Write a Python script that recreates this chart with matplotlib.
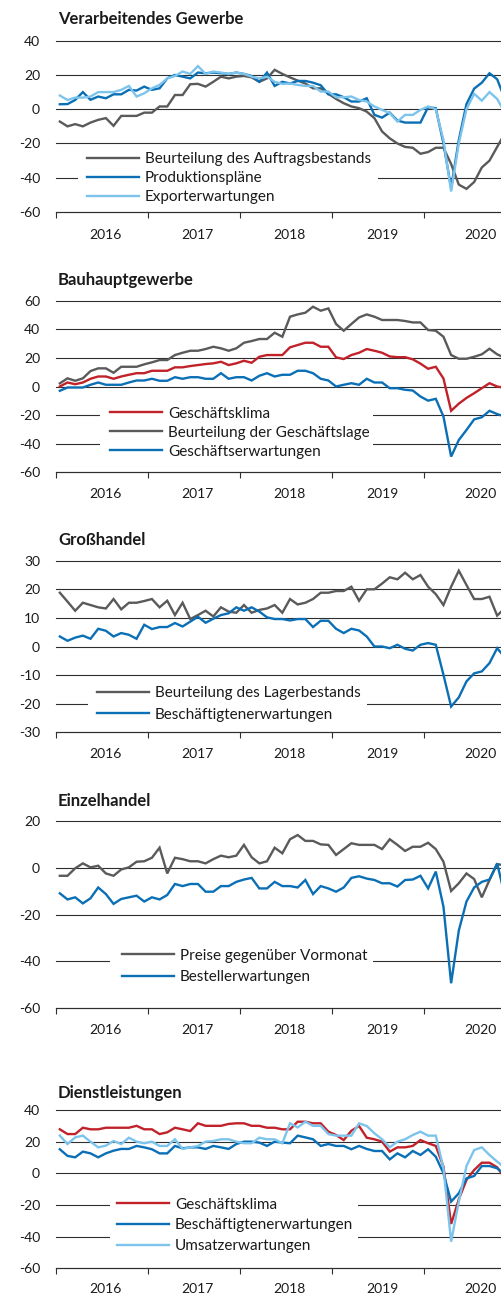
import numpy as np
import matplotlib
matplotlib.use("Agg")
import matplotlib.pyplot as plt
from matplotlib.patches import Rectangle

plt.rcParams['font.family'] = ['Lato', 'DejaVu Sans']
plt.rcParams['axes.unicode_minus'] = False

W, H, DPI = 501, 1295, 100

# ---------------- data ----------------
years = ['2016', '2017', '2018', '2019', '2020']
year_ticks = [0, 12, 24, 36, 48]
year_label_pos = [6.4, 18.4, 30.4, 42.5, 55.3]

vg_title = 'Verarbeitendes Gewerbe'
vg_labels = ['Beurteilung des Auftragsbestands', 'Produktionspläne', 'Exporterwartungen']
vg_auftragsbestand = [-7.2, -10, -8.7, -10, -7.8, -6.2, -5.2, -9.7, -3.9, -3.9, -3.9, -2, -2, 1.6, 1.6, 8.3, 8.3,
                      14.6, 14.8, 13.2, 16, 19, 18, 19, 19.4, 18.6, 16, 18, 23, 20.6, 18.6, 16.7, 15, 12.2, 12.2,
                      9, 6, 3.5, 1.6, 0.6, -1.4, -5.2, -13, -17, -20, -22, -22.5, -26, -25, -22.5, -22.5, -32,
                      -44, -46.5, -42.5, -34, -30, -22, -14]
vg_produktion = [2.9, 3, 5.4, 10, 5.5, 7.4, 6.4, 8.7, 8.7, 11.3, 10.9, 13.2, 11.3, 12.2, 18, 20, 19, 18, 21.4, 21,
                 21.4, 21, 20.6, 21.4, 20.6, 19.4, 16, 21.4, 13.6, 16, 15, 16.5, 16.5, 15.5, 14, 8.7, 8.7, 7, 4.5,
                 4.5, 6.4, -3.3, -4.9, -2, -6.6, -7.8, -7.8, -7.8, 1.2, 0.6, -20, -46, -18, 3, 12, 15.5, 21, 17.5, 6]
vg_export = [8, 5.4, 6.8, 6.8, 7.4, 10, 10, 10, 11.3, 13.6, 7.4, 9.3, 12.2, 14.2, 18, 19.4, 22, 20.6, 25.2, 20.6,
             22, 21.4, 20.6, 21.4, 20.6, 19, 18, 19, 16, 14.8, 15, 14.2, 13.6, 13.6, 10.3, 10.3, 7, 7, 7.4, 5.4,
             4.5, 1.6, -0.4, -2.3, -7.2, -3.3, -3.3, -0.4, 1.6, 0, -18, -48, -20, 0, 9, 5, 10, 6, -2]
vg_yticks = [-60, -40, -20, 0, 20, 40]

bau_title = 'Bauhauptgewerbe'
bau_labels = ['Geschäftsklima', 'Beurteilung der Geschäftslage', 'Geschäftserwartungen']
bau_klima = [0, 2.8, 1.6, 2.8, 5.4, 7, 7, 5.4, 7, 8.2, 9.3, 9.3, 11, 11, 11, 13.4, 13.4, 14.3, 15, 15.7, 16.2, 17.3,
             15, 16.2, 18, 16.6, 20.8, 22, 22, 22, 27.4, 29, 30.6, 30.6, 27.8, 27.8, 20.4, 19.2, 22, 23.6, 26.2, 25,
             23.6, 21, 20.5, 20.5, 19, 16, 12.4, 13.8, 5.6, -17, -12, -8, -4.7, -1.2, 2.3, 0, -1]
bau_lage = [2.2, 5.7, 4, 5.7, 10.8, 12.7, 12.7, 9.6, 13.8, 13.8, 13.8, 15.5, 16.9, 18.5, 18.5, 22, 23.6, 25, 25,
            26.2, 27.8, 26.7, 25, 26.7, 30.6, 31.8, 33.2, 33.2, 37.6, 34.8, 48.8, 50.4, 51.6, 55.8, 53, 54.6, 43.7,
            39, 43.7, 48.3, 50.4, 48.8, 46.5, 46.5, 46.5, 45.8, 44.8, 44.8, 39.5, 39, 34.8, 22, 19.4, 19.4, 20.8,
            22.5, 26.4, 22.5, 20]
bau_erwartungen = [-3, -0.7, -0.7, -0.7, 1.2, 2.8, 1.2, 1.2, 1.2, 2.8, 4.2, 4.2, 5.4, 4, 4, 6.5, 5.4, 6.5, 6.5,
                   5.4, 5.4, 9.3, 5.4, 6.5, 6.5, 4.2, 7.5, 9.3, 7, 8.2, 8.2, 11, 11, 9.3, 5.4, 4.2, 0, 1.2, 2.3,
                   1.2, 5.4, 2.8, 2.8, -1.2, -1.2, -2.3, -2.8, -7, -9.9, -8.6, -21, -49, -37.4, -30.4, -23,
                   -21.5, -17, -19.3, -21]
bau_yticks = [-60, -40, -20, 0, 20, 40, 60]

gh_title = 'Großhandel'
gh_labels = ['Beurteilung des Lagerbestands', 'Beschäftigtenerwartungen']
gh_lager = [18.8, 15.7, 12.5, 15.3, 14.5, 13.7, 13.3, 16.6, 13, 15.3, 15.3, 15.9, 16.6, 13.7, 16, 11, 15.3, 9.6,
            11, 12.5, 10.5, 13.7, 12.2, 11.8, 14.5, 11.8, 12.8, 13.3, 14.5, 11.8, 16.6, 14.7, 15.3, 16.6, 18.8,
            18.8, 19.4, 19.4, 20.9, 16, 20, 20, 22, 24.2, 23.5, 25.8, 23.5, 25, 20.9, 18.3, 14.5, 20.9, 26.5,
            21.5, 16.6, 16.6, 17.4, 10.8, 13.4]
gh_beschaeftigte = [3.5, 2, 3.1, 3.8, 2.7, 6.2, 5.5, 3.5, 4.7, 4.1, 2.7, 7.6, 6.1, 6.8, 6.8, 8.2, 7, 8.7, 10.4,
                    8.3, 9.7, 11, 11.6, 13.7, 12.5, 13.7, 12.2, 10.2, 9.6, 9.6, 9.1, 9.6, 9.6, 6.8, 9, 9, 6.2,
                    4.7, 6.2, 5.6, 3.5, 0, 0, -0.6, 0.6, -0.8, -1.4, 0.6, 1.2, 0.6, -9.9, -21, -17.8, -12.2,
                    -9.4, -8.7, -5.8, -0.6, -3.8]
gh_yticks = [-30, -20, -10, 0, 10, 20, 30]

eh_title = 'Einzelhandel'
eh_labels = ['Preise gegenüber Vormonat', 'Bestellerwartungen']
eh_preise = [-3.4, -3.4, -0.2, 1.9, 0.2, 0.9, -2.4, -3.4, -0.7, 0.2, 2.6, 2.8, 4.3, 8.6, -2.4, 4.3, 3.7, 2.8, 2.8,
             1.9, 3.7, 5.2, 4.5, 5.2, 9.8, 4.5, 1.9, 2.8, 8.6, 6.2, 12.2, 14, 11.5, 11.5, 10, 9.8, 5.5, 8, 10.5,
             9.8, 9.8, 9.8, 8, 12.2, 9.8, 7.2, 9, 9, 10.7, 8, 2.6, -9.9, -6.6, -2.4, -4.8, -12.6, -5.2, 1.6, 1]
eh_bestell = [-10.9, -13.5, -12.6, -15.2, -13, -8.4, -11.2, -15.4, -13.3, -12.6, -11.9, -14.4, -12.6, -13.5,
              -11.6, -6.9, -7.8, -6.9, -6.9, -10.2, -10.2, -7.8, -7.8, -6, -5, -4.3, -8.8, -8.8, -6, -7.8, -7.8,
              -8.4, -5.2, -11.2, -7.8, -8.8, -10.2, -8.4, -4.3, -3.6, -4.6, -5.2, -6.6, -6.6, -8, -5.2, -5, -3.4,
              -8.8, -1.6, -16.6, -49.3, -26.8, -14.4, -8.4, -6, -5, 1.9, -12]
eh_yticks = [-60, -40, -20, 0, 20]

dl_title = 'Dienstleistungen'
dl_labels = ['Geschäftsklima', 'Beschäftigtenerwartungen', 'Umsatzerwartungen']
dl_klima = [27.8, 24.8, 24.8, 28.8, 27.8, 27.8, 28.8, 28.8, 28.8, 28.8, 30, 27.8, 27.8, 24.8, 25.9, 28.8, 27.8,
            26.7, 31.6, 30, 30, 30, 31.2, 31.6, 31.6, 30, 30, 28.8, 28.8, 27.8, 27.8, 32.6, 32.6, 31.6, 31.6,
            26.3, 24.2, 21, 26.9, 29.9, 22.5, 21.5, 20, 13.7, 16.4, 16.4, 17.3, 21, 19, 17.3, 4.2, -32, -16.4,
            -4.2, 2.1, 6.7, 6.7, 3.8, -3]
dl_beschaeftigte = [15.2, 11, 10.1, 13.7, 12.6, 10.1, 12.6, 14.3, 15.4, 15.4, 17.3, 16.4, 15.2, 12.6, 12.6, 17.3,
                    15.8, 16.4, 16.4, 15.4, 17.3, 16.4, 15.4, 18.5, 20, 20, 19.4, 17.3, 20, 19.4, 19, 23.8, 22.7,
                    21.5, 17.3, 18.5, 17.3, 17.3, 15.2, 17.3, 15.4, 14.1, 14.1, 8.8, 12.6, 10.1, 14.1, 11.6, 15.2,
                    10.5, 0, -17.9, -12.6, -3.2, -1.7, 4.6, 4.6, 3.2, -1]
dl_umsatz = [23.8, 18.5, 22.7, 23.8, 20, 16.4, 17.5, 20.4, 18.5, 22.5, 20, 19, 20, 17.3, 17.3, 21.5, 15.4, 16.4,
             17.3, 20, 20.4, 21.5, 21.5, 20, 19, 19, 22.5, 21.5, 21.5, 19, 31.6, 29, 32.6, 30, 30, 24.8, 23.8,
             23.8, 23.8, 31.6, 29.9, 25.3, 21.5, 16.4, 20, 21.5, 24.2, 26.3, 23.8, 23.8, 3.2, -43.2, -17.9, 4.6,
             14.7, 16.4, 11.6, 7.4, 3.5]
dl_yticks = [-60, -40, -20, 0, 20, 40]

# ---------------- style ----------------
GRAY = '#5a5a5a'
DBLUE = '#0b6fb6'
LBLUE = '#7cc4ec'
RED = '#c1222a'
GRID = '#2e2e2e'
TXT = '#1a1a1a'
FS = 10          # tick labels
LEG_FS = 11      # legend
TITLE_FS = 12    # panel titles
LEG_PX = LEG_FS * DPI / 72.0
LW = 1.7

panels = [
    dict(title=vg_title, yticks=vg_yticks,
         series=[(vg_labels[0], vg_auftragsbestand, GRAY), (vg_labels[1], vg_produktion, DBLUE),
                 (vg_labels[2], vg_export, LBLUE)],
         axes_px=(40.7, 212.0), title_base=24.0, leg_x=87, leg_cy=178.3, leg_gap=18.5,
         box=(78, 378, 148, 209), xpad=12.0),
    dict(title=bau_title, yticks=bau_yticks,
         series=[(bau_labels[0], bau_klima, RED), (bau_labels[1], bau_lage, GRAY),
                 (bau_labels[2], bau_erwartungen, DBLUE)],
         axes_px=(300.7, 472.3), title_base=285.0, leg_x=110, leg_cy=432.7, leg_gap=18.5,
         box=(100, 373, 402, 465), xpad=11.1),
    dict(title=gh_title, yticks=gh_yticks,
         series=[(gh_labels[0], gh_lager, GRAY), (gh_labels[1], gh_beschaeftigte, DBLUE)],
         axes_px=(560.7, 732.3), title_base=545.0, leg_x=97, leg_cy=703.8, leg_gap=21.0,
         box=(88, 367, 682, 726), xpad=11.6),
    dict(title=eh_title, yticks=eh_yticks,
         series=[(eh_labels[0], eh_preise, GRAY), (eh_labels[1], eh_bestell, DBLUE)],
         axes_px=(821.0, 1008.3), title_base=806.0, leg_x=122, leg_cy=966.3, leg_gap=20.7,
         box=(110, 373, 944, 990), xpad=11.1),
    dict(title=dl_title, yticks=dl_yticks,
         series=[(dl_labels[0], dl_klima, RED), (dl_labels[1], dl_beschaeftigte, DBLUE),
                 (dl_labels[2], dl_umsatz, LBLUE)],
         axes_px=(1110.0, 1268.3), title_base=1097.7, leg_x=117, leg_cy=1225.5, leg_gap=20.3,
         box=(110, 358, 1193, 1258), xpad=10.4),
]

AX_L, AX_W = 56.0, 445.0
ROW_H = 0.88 * LEG_PX  # approx. text row height in px

fig = plt.figure(figsize=(W / DPI, H / DPI), dpi=DPI)
fig.patch.set_facecolor('white')

for p in panels:
    top, bot = p['axes_px']
    ah = bot - top
    ax = fig.add_axes([AX_L / W, 1 - bot / H, AX_W / W, ah / H])
    for label, vals, color in p['series']:
        x = np.arange(len(vals)) + 0.5
        ax.plot(x, vals, color=color, lw=LW, label=label, zorder=3, solid_joinstyle='miter')
    ax.set_xlim(0, 58)
    yt = p['yticks']
    ax.set_ylim(yt[0], yt[-1])
    ax.set_yticks(yt)
    ax.set_yticklabels([str(v) for v in yt])
    for s in ['top', 'left', 'right']:
        ax.spines[s].set_visible(False)
    ax.spines['bottom'].set_color(GRID)
    ax.spines['bottom'].set_linewidth(0.8)
    ax.set_axisbelow(True)
    ax.yaxis.grid(True, color=GRID, lw=0.8)
    for gl in ax.get_ygridlines():
        gl.set_clip_on(False)
    ax.tick_params(axis='y', length=0, pad=11.5, labelsize=FS, labelcolor=TXT)
    ax.set_xticks(year_ticks)
    ax.set_xticklabels([''] * len(year_ticks))
    ax.set_xticks(year_label_pos, minor=True)
    ax.set_xticklabels(years, minor=True)
    ax.tick_params(axis='x', which='major', length=4.3, width=0.8, color=GRID, direction='out')
    ax.tick_params(axis='x', which='minor', length=0, pad=p['xpad'], labelsize=FS, labelcolor=TXT)

    # white background behind legend
    bx0, bx1, by0, by1 = p['box']
    ax.add_patch(Rectangle(((bx0 - AX_L) / AX_W, (bot - by1) / ah), (bx1 - bx0) / AX_W, (by1 - by0) / ah,
                           transform=ax.transAxes, facecolor='white', edgecolor='none', zorder=2))
    ls = (p['leg_gap'] - ROW_H) / LEG_PX
    leg = ax.legend(loc='center left', bbox_to_anchor=((p['leg_x'] - AX_L) / AX_W, (bot - p['leg_cy']) / ah),
                    bbox_transform=ax.transAxes, frameon=False, borderpad=0, borderaxespad=0,
                    handlelength=52 / LEG_PX, handletextpad=6 / LEG_PX, labelspacing=ls, fontsize=LEG_FS)
    for t in leg.get_texts():
        t.set_color(TXT)

    fig.text(58 / W, 1 - p['title_base'] / H, p['title'], fontsize=TITLE_FS, fontweight='bold', color=TXT,
             ha='left', va='baseline')

fig.savefig('out.png', dpi=DPI, facecolor='white')
